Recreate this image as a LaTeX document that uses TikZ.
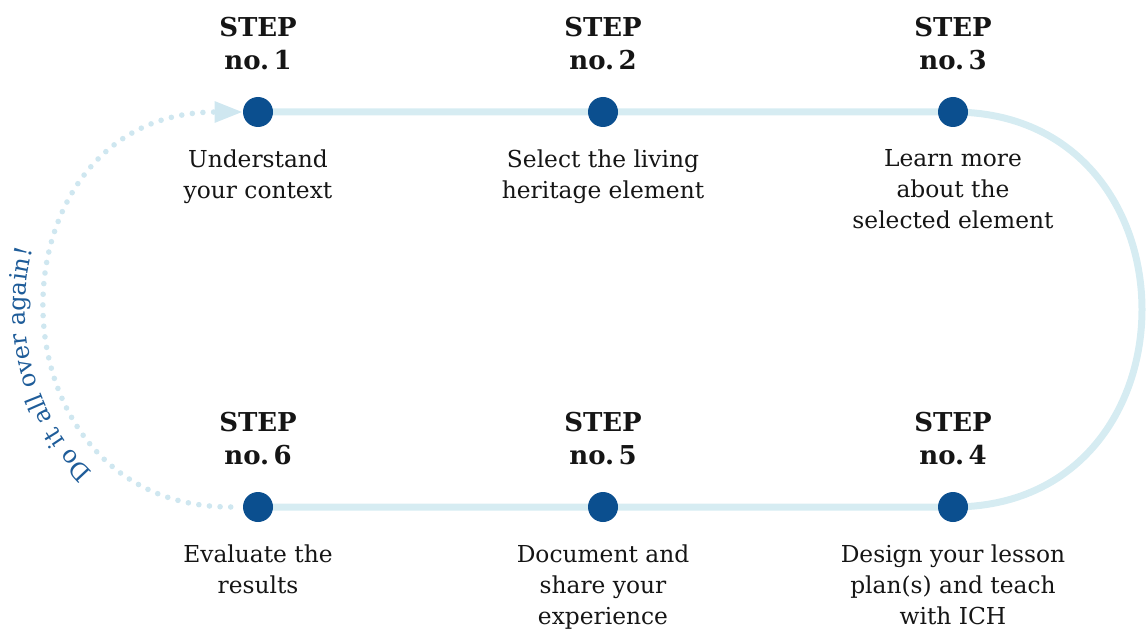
\documentclass[tikz,border=0pt]{standalone}
\usepackage{fontspec}
\setmainfont{DejaVu Serif}
\usetikzlibrary{arrows.meta,decorations.text,backgrounds}
\definecolor{dotblue}{HTML}{0B4F8F}
\definecolor{linkblue}{HTML}{D6ECF2}
\definecolor{dotline}{HTML}{CFE7F0}
\definecolor{txtblue}{HTML}{1E5C99}
\definecolor{txtblack}{HTML}{151515}
\begin{document}
\begin{tikzpicture}[x=0.75pt,y=-0.75pt,
  stepdot/.style={circle,fill=dotblue,minimum size=22.5pt,inner sep=0pt},
  stephead/.style={font=\bfseries\fontsize{19.5}{24.75}\selectfont,text=txtblack,align=center,anchor=south,inner sep=0pt},
  steptext/.style={font=\fontsize{17.5}{23.25}\selectfont,text=txtblack,align=center,anchor=north,inner sep=0pt},
  link/.style={draw=linkblue,line width=5.25pt},
  loopback/.style={draw=dotline,line width=4.2pt,line cap=round,dash pattern=on 0pt off 8pt},
]
\useasboundingbox (0,0) rectangle (1146,631);
% dots
\node[stepdot] (s1) at (258,112) {};
\node[stepdot] (s2) at (603,112) {};
\node[stepdot] (s3) at (953,112) {};
\node[stepdot] (s4) at (953,507) {};
\node[stepdot] (s5) at (603,507) {};
\node[stepdot] (s6) at (258,507) {};
% headings
\node[stephead] (h1) at (258,70) {STEP\\no.\,1};
\node[stephead] (h2) at (603,70) {STEP\\no.\,2};
\node[stephead] (h3) at (953,70) {STEP\\no.\,3};
\node[stephead] (h4) at (953,465) {STEP\\no.\,4};
\node[stephead] (h5) at (603,465) {STEP\\no.\,5};
\node[stephead] (h6) at (258,465) {STEP\\no.\,6};
% descriptions
\node[steptext] (t1) at (258,149.3) {Understand\\your context};
\node[steptext] (t2) at (603,149.3) {Select the living\\heritage element};
\node[steptext] (t3) at (953,149.3) {Learn more\\about the\\selected element};
\node[steptext] (t4) at (953,544.3) {Design your lesson\\plan(s) and teach\\with ICH};
\node[steptext] (t5) at (603,544.3) {Document and\\share your\\experience};
\node[steptext] (t6) at (258,544.3) {Evaluate the\\results};
% connectors
\begin{scope}[on background layer]
\draw[link] (s1.center) -- (s2.center) -- (s3.center)
  .. controls +(252,0) and +(252,0) .. (s4.center) -- (s5.center) -- (s6.center);
\draw[loopback,shorten <=9pt,-{Triangle[length=21pt,width=15pt]}]
  (s6.west) .. controls +(-260,0) and +(-260,0) .. (s1.west);
\end{scope}
% curved label (coordinates in pt, unflipped)
\begin{scope}[x=1pt,y=1pt]
\path[decorate,decoration={text along path,text align=center,
  text={|\fontsize{18}{21}\selectfont\color{txtblue}|Do it all over again!}}]
  (171,-232.5) ++(228:152 and 164) arc[start angle=228,end angle=164,x radius=152,y radius=164];
\end{scope}
\end{tikzpicture}
\end{document}
